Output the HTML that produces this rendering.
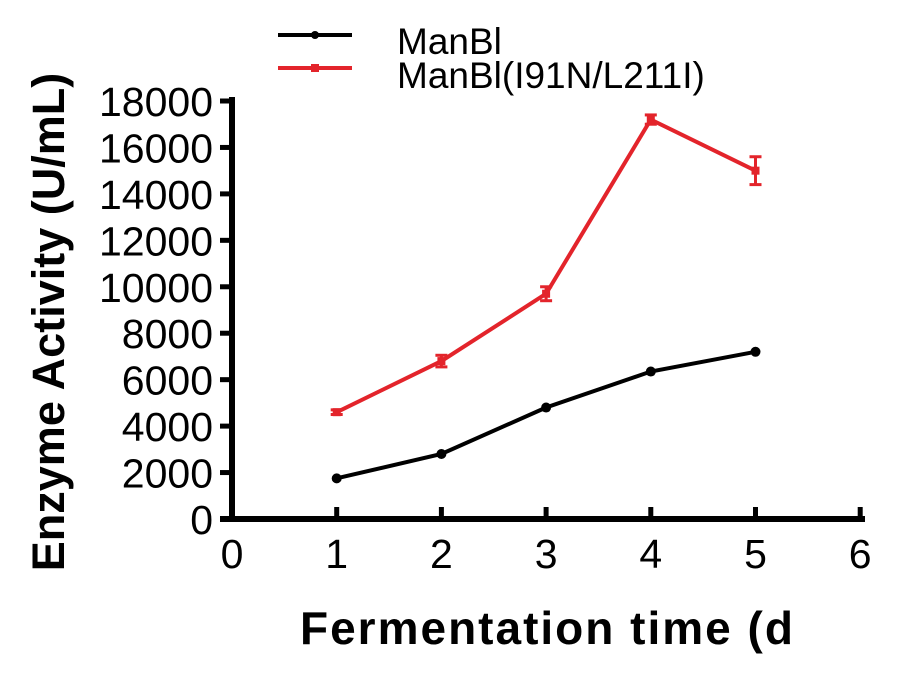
<!DOCTYPE html>
<html><head><meta charset="utf-8"><style>
body{margin:0;background:#fff;}
svg{display:block;font-family:"Liberation Sans",Arial,sans-serif;}
</style></head><body>
<svg width="905" height="674" id="c"></svg>
<script>
const xTicks=[0,1,2,3,4,5,6];
const yTicks=[0,2000,4000,6000,8000,10000,12000,14000,16000,18000];
const days=[1,2,3,4,5];
const manBl=[1750,2800,4800,6350,7200];
const mutant=[4600,6800,9700,17200,15000];
const mutantErr=[100,250,300,200,600];
const NS='http://www.w3.org/2000/svg';
const svg=document.getElementById('c');
const X=v=>232+v*104.7;
const Y=v=>519-v*418/18000;
function mk(t,a,p){const e=document.createElementNS(NS,t);for(const k in a)e.setAttribute(k,a[k]);(p||svg).appendChild(e);return e;}
let g=mk('g',{});


mk('line',{x1:232,y1:97,x2:232,y2:522,stroke:'#000','stroke-width':6},g);
mk('line',{x1:220,y1:519,x2:865,y2:519,stroke:'#000','stroke-width':6},g);
yTicks.forEach(v=>{mk('line',{x1:220,y1:Y(v),x2:232,y2:Y(v),stroke:'#000','stroke-width':5},g);
 const t=mk('text',{x:213,y:Y(v)+15,'text-anchor':'end','font-size':41},g);t.textContent=v;
 });
xTicks.forEach(v=>{if(v>0)mk('line',{x1:X(v),y1:507,x2:X(v),y2:519,stroke:'#000','stroke-width':5},g);
 const t=mk('text',{x:X(v),y:568,'text-anchor':'middle','font-size':41},g);t.textContent=v;
 });
function series(vals,col,name,err,sq){
 const s=mk('g',{});
 
 
 mk('polyline',{points:vals.map((v,i)=>X(days[i])+','+Y(v)).join(' '),fill:'none',stroke:col,'stroke-width':4},s);
 vals.forEach((v,i)=>{
  if(err){const e=err[i],x=X(days[i]);
   mk('line',{x1:x,y1:Y(v+e),x2:x,y2:Y(v-e),stroke:col,'stroke-width':3},s);
   mk('line',{x1:x-6,y1:Y(v+e),x2:x+6,y2:Y(v+e),stroke:col,'stroke-width':3},s);
   mk('line',{x1:x-6,y1:Y(v-e),x2:x+6,y2:Y(v-e),stroke:col,'stroke-width':3},s);}
  if(sq)mk('rect',{x:X(days[i])-4,y:Y(v)-4,width:8,height:8,fill:col},s);
  else mk('circle',{cx:X(days[i]),cy:Y(v),r:5,fill:col},s);
 });
}
series(manBl,'#000','series-manbl',null,false);
series(mutant,'#e3242b','series-manbl-mutant',mutantErr,true);
</script>
<svg style="position:absolute;left:0;top:0" width="905" height="674">
<g font-family="Liberation Sans, Arial, sans-serif">
<line x1="278" y1="35" x2="352" y2="35" stroke="#000" stroke-width="4"/><circle cx="315" cy="35" r="4"/>
<text x="397" y="54" font-size="37">ManBl</text>
<line x1="278" y1="68" x2="352" y2="68" stroke="#e3242b" stroke-width="4"/><rect x="311" y="64" width="8" height="8" fill="#e3242b"/>
<text x="397" y="88" font-size="37">ManBl(I91N/L211I)</text>
</g>
<text transform="translate(64,322) rotate(-90)" text-anchor="middle" font-size="45" font-weight="bold" font-family="Liberation Sans, Arial, sans-serif">Enzyme Activity (U/mL)</text>
<text x="300" y="644" font-size="46" font-weight="bold" font-family="Liberation Sans, Arial, sans-serif" letter-spacing="2">Fermentation time (d</text>
</svg>
</body></html>
